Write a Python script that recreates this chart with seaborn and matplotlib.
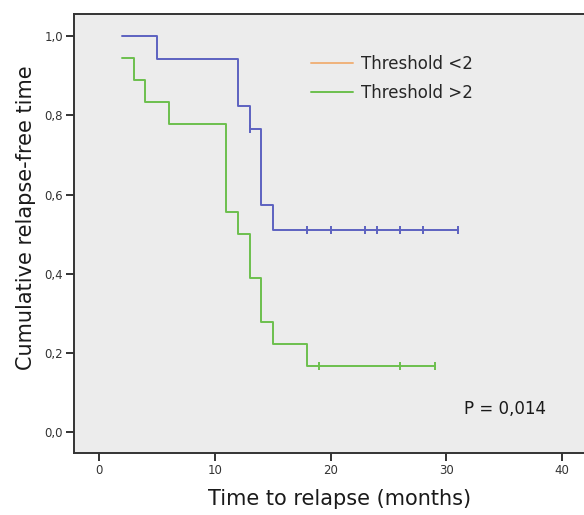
import seaborn as sns
import matplotlib.pyplot as plt
import pandas as pd
from matplotlib.lines import Line2D

# Kaplan-Meier step values
low_time = [2, 5, 12, 13, 14, 15, 31]
low_surv = [1.0, 0.941, 0.824, 0.765, 0.574, 0.510, 0.510]
low_cens_time = [13, 18, 20, 23, 24, 26, 28, 31]
low_cens_surv = [0.765, 0.510, 0.510, 0.510, 0.510, 0.510, 0.510, 0.510]

high_time = [2, 3, 4, 6, 11, 12, 13, 14, 15, 18, 29]
high_surv = [0.944, 0.889, 0.833, 0.778, 0.556, 0.500, 0.389, 0.278, 0.222, 0.167, 0.167]
high_cens_time = [19, 26, 29]
high_cens_surv = [0.167, 0.167, 0.167]

legend_labels = ['Threshold <2', 'Threshold >2']
y_ticks = [0.0, 0.2, 0.4, 0.6, 0.8, 1.0]
y_tick_labels = ['0,0', '0,2', '0,4', '0,6', '0,8', '1,0']
x_ticks = [0, 10, 20, 30, 40]
p_text = 'P = 0,014'

blue = '#5d62c0'
green = '#6cbf4d'
orange = '#f0b27a'

df_low = pd.DataFrame({'time': low_time, 'surv': low_surv})
df_high = pd.DataFrame({'time': high_time, 'surv': high_surv})
cens_low = pd.DataFrame({'time': low_cens_time, 'surv': low_cens_surv})
cens_high = pd.DataFrame({'time': high_cens_time, 'surv': high_cens_surv})

sns.set_style('white')
fig = plt.figure(figsize=(5.84, 5.15), dpi=100)
ax = fig.add_axes([0.127, 0.120, 0.873, 0.853])
ax.set_facecolor('#ececec')

# curves
sns.lineplot(data=df_low, x='time', y='surv', color=blue, drawstyle='steps-post',
             linewidth=1.4, ax=ax, estimator=None)
sns.lineplot(data=df_high, x='time', y='surv', color=green, drawstyle='steps-post',
             linewidth=1.4, ax=ax, estimator=None)
# censor marks
sns.scatterplot(data=cens_low, x='time', y='surv', marker='|', s=36, color=blue,
                linewidth=1.4, ax=ax)
sns.scatterplot(data=cens_high, x='time', y='surv', marker='|', s=36, color=green,
                linewidth=1.4, ax=ax)

ax.set_xlim(-2.16, 41.9)
ax.set_ylim(-0.053, 1.056)
ax.set_yticks(y_ticks)
ax.set_yticklabels(y_tick_labels)
ax.set_xticks(x_ticks)
ax.tick_params(axis='both', direction='out', length=6, width=1.4, color='#333333',
               labelsize=8.5, labelcolor='#333333', pad=2, left=True, bottom=True)

for side in ['left', 'bottom', 'top']:
    ax.spines[side].set_color('#333333')
    ax.spines[side].set_linewidth(1.4)
ax.spines['right'].set_visible(False)

ax.set_xlabel('Time to relapse (months)', fontsize=15, color='#1a1a1a')
ax.set_ylabel('Cumulative relapse-free time', fontsize=15, color='#1a1a1a')
ax.xaxis.set_label_coords(0.52, -0.082)
ax.yaxis.set_label_coords(-0.074, 0.535)

handles = [Line2D([0], [0], color=orange, linewidth=1.4),
           Line2D([0], [0], color=green, linewidth=1.4)]
ax.legend(handles, legend_labels, loc='upper left', bbox_to_anchor=(0.435, 0.94),
          frameon=False, fontsize=12, handlelength=2.5, handletextpad=0.5,
          labelspacing=0.65)

ax.text(31.55, 0.045, p_text, fontsize=12, color='#1a1a1a')

fig.savefig('out.png', dpi=100)
